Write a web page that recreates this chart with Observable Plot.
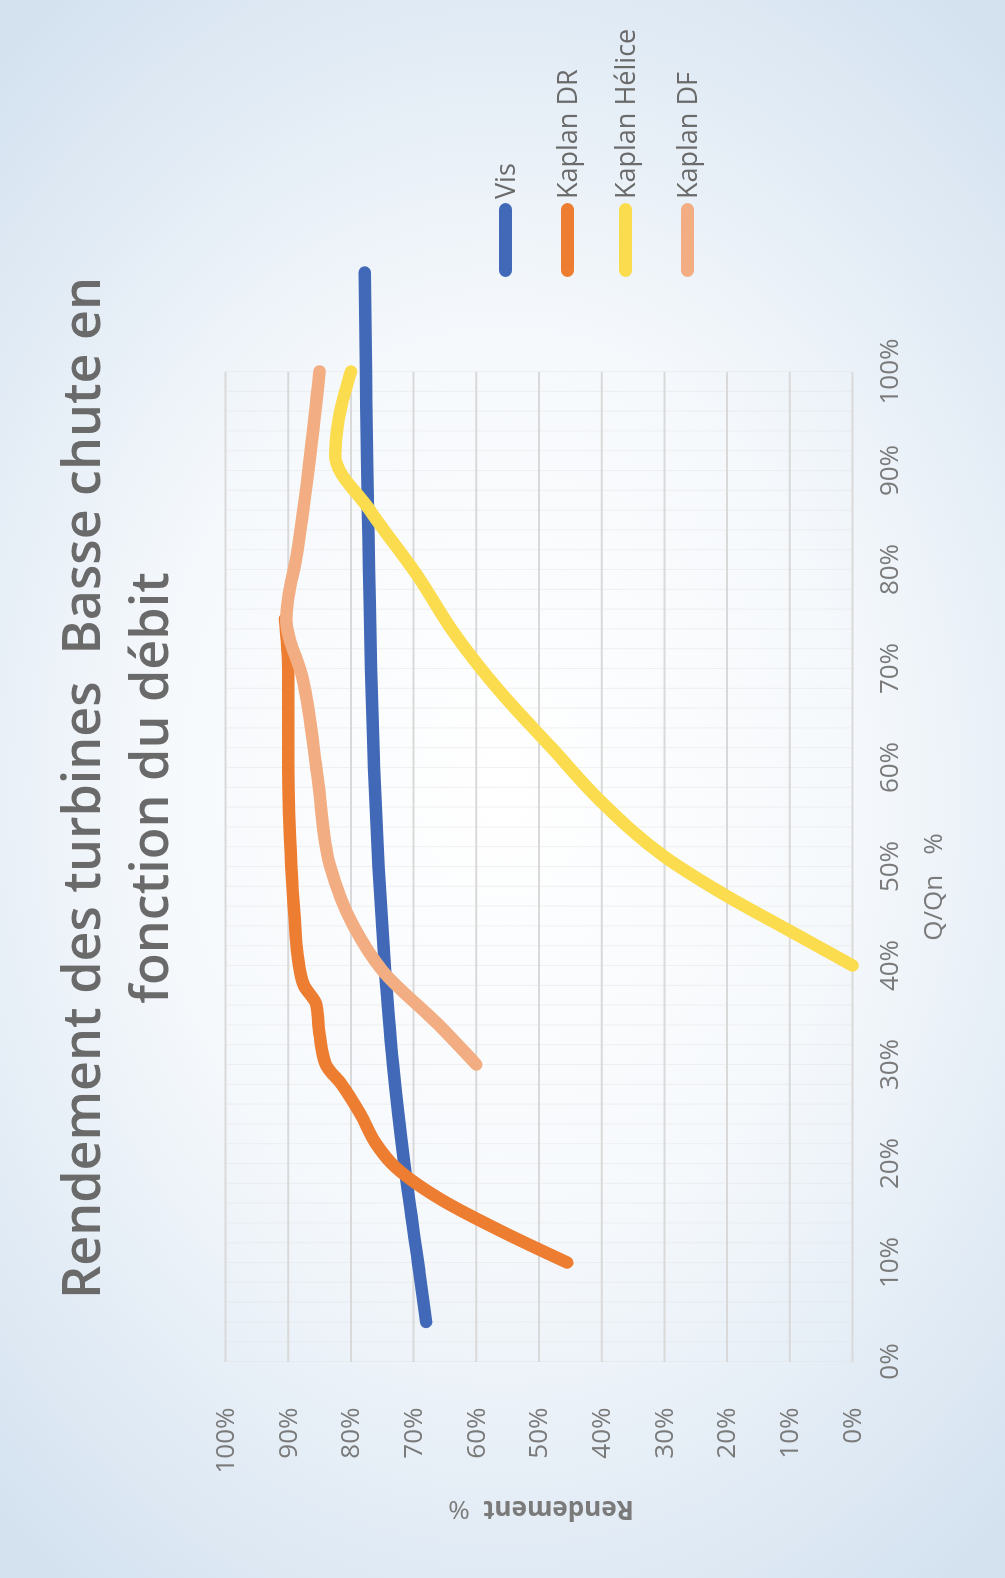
<!DOCTYPE html>
<html><head><meta charset="utf-8">
<script src="https://cdn.jsdelivr.net/npm/d3@7"></script>
<script src="https://cdn.jsdelivr.net/npm/@observablehq/plot@0.6"></script>
<style>
html,body{margin:0;padding:0;width:1005px;height:1578px;overflow:hidden;}
body{background: radial-gradient(ellipse 75% 62% at 50% 50%, #ffffff 0%, #f6f9fc 45%, #d4e2f0 100%);}
#wrap{position:absolute;left:0;top:0;width:1578px;height:1005px;transform-origin:0 0;transform:translate(0,1578px) rotate(-90deg);font-family:"Open Sans",sans-serif;filter:blur(0.6px);}
#chart{position:absolute;left:0;top:0;}
.title{position:absolute;left:190px;width:1200px;top:46px;text-align:center;font-size:52px;line-height:68px;font-weight:600;color:#6a6a6a;white-space:pre;}
.lab{position:absolute;color:#7a7a7a;font-size:26px;white-space:pre;line-height:30px;}
.leg{position:absolute;left:1301px;}
.sw{position:absolute;left:0;width:74px;height:13px;border-radius:6.5px;}
.lt{position:absolute;left:78px;font-size:27px;color:#6a6a6a;white-space:pre;line-height:30px;}
</style></head>
<body>
<div id="wrap">
  <div id="chart"></div>
  <div class="title" id="title"></div>
  <div class="lab" id="xlab"></div>
  <div class="lab" id="ylab"></div>
  <div id="legend"></div>
</div>
<script>
const titleLines = ["Rendement des turbines  Basse chute en", "fonction du débit"];
const xLabel = "Q/Qn   %";
const yLabelMain = "Rendement";
const yLabelUnit = "%";
const seriesNames = ["Vis", "Kaplan DR", "Kaplan Hélice", "Kaplan DF"];
const seriesColors = ["#4169b8", "#ed7d31", "#fbdc4e", "#f2ae82"];
const xTicks = [0,10,20,30,40,50,60,70,80,90,100];
const yTicks = [0,10,20,30,40,50,60,70,80,90,100];

const qVis = [4,10,20,30,40,50,60,70,80,90,100,110];
const rVis = [68,69.3,71.5,73.3,74.6,75.6,76.3,76.8,77.1,77.4,77.6,77.8];
const qDR = [10,13,16.5,20,22,25,28,30,33,36,38,41,45,50,60,70,75];
const rDR = [45.5,55.5,66,73.5,76,78.5,81.5,84,85,85.5,87.5,88.5,89,89.5,90,90,90.5];
const qHel = [40,43.5,47,51,56.5,62,67.5,74,79,86,91.5,95,100];
const rHel = [0,10,20,30,40,48,56,64,69,77,82.5,82,80];
const qDF = [30,34,39.5,44,50,59,69,75,82,92,100];
const rDF = [60,66,75,79.6,83.3,85.3,87.7,90.3,88.5,86.4,85];

const seriesQ = [qVis, qDR, qHel, qDF];
const seriesR = [rVis, rDR, rHel, rDF];
const rows = [];
seriesNames.forEach((s, i) => seriesQ[i].forEach((q, j) => rows.push({serie: s, q, r: seriesR[i][j]})));

const minorX = d3.range(0, 101, 2);

const chart = Plot.plot({
  width: 1578, height: 1005,
  marginLeft: 216, marginRight: 372, marginTop: 225, marginBottom: 153,
  style: {background: "transparent", fontFamily: "Open Sans, sans-serif", fontSize: "26px", color: "#7a7a7a", overflow: "visible"},
  x: {domain: [0, 100]},
  y: {domain: [0, 100]},
  color: {domain: seriesNames, range: seriesColors},
  marks: [
    Plot.gridX(minorX, {stroke: "#e4e4e4", strokeOpacity: 0.5, strokeWidth: 1}),
    Plot.gridY(yTicks, {stroke: "#d9d9d9", strokeOpacity: 1, strokeWidth: 2}),
    Plot.axisX(xTicks, {tickSize: 0, tickPadding: 27, tickFormat: d => d + "%", label: null, fill: "#7a7a7a", fontSize: 26}),
    Plot.axisY(yTicks, {tickSize: 0, tickPadding: 46, tickFormat: d => d + "%", label: null, fill: "#7a7a7a", fontSize: 26}),
    Plot.line(rows, {x: "q", y: "r", z: "serie", stroke: "serie", strokeWidth: 12.5, curve: "monotone-x", strokeLinecap: "round", strokeLinejoin: "round"})
  ]
});
document.getElementById("chart").appendChild(chart);

document.getElementById("title").textContent = titleLines.join("\n");

const xl = document.getElementById("xlab");
xl.textContent = xLabel;
xl.style.left = "691px"; xl.style.top = "932px";
xl.style.transform = "translate(-50%,-50%)";

const yl = document.getElementById("ylab");
const b = document.createElement("span");
b.style.fontWeight = "700";
b.textContent = yLabelMain + "  ";
const u = document.createElement("span");
u.textContent = yLabelUnit;
yl.appendChild(b); yl.appendChild(u);
yl.style.left = "67px"; yl.style.top = "541px";
yl.style.transform = "translate(-50%,-50%) rotate(-90deg)";

const legCenters = [505, 567, 625, 687];
const leg = document.getElementById("legend");
seriesNames.forEach((s, i) => {
  const item = document.createElement("div");
  item.className = "leg";
  item.style.top = legCenters[i] + "px";
  const sw = document.createElement("div");
  sw.className = "sw"; sw.style.top = "-6.5px"; sw.style.background = seriesColors[i];
  const t = document.createElement("div");
  t.className = "lt"; t.style.top = "-15.5px"; t.textContent = s;
  item.appendChild(sw); item.appendChild(t);
  leg.appendChild(item);
});
</script>
</body></html>
